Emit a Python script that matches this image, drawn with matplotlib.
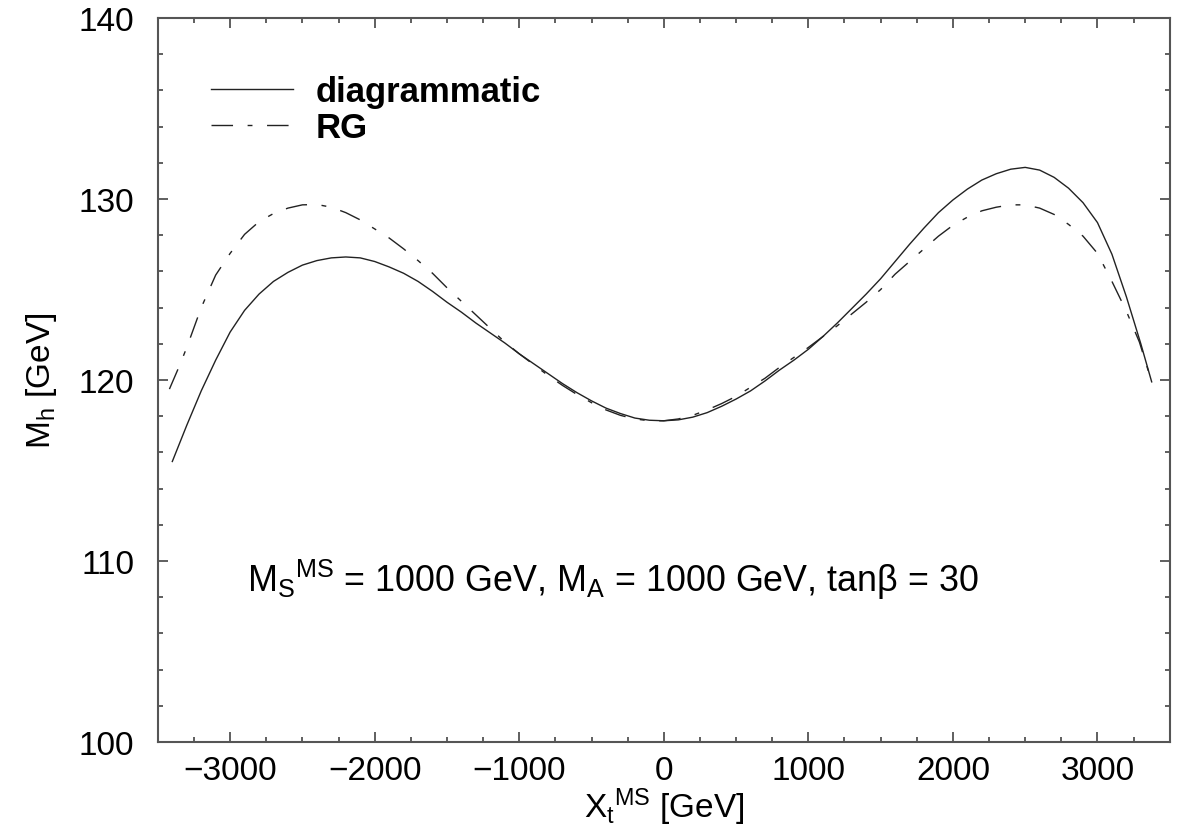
import matplotlib
matplotlib.use('Agg')
import matplotlib.pyplot as plt
from matplotlib.ticker import MultipleLocator

plt.rcParams['font.family'] = ['Liberation Sans', 'DejaVu Sans']
plt.rcParams['mathtext.fontset'] = 'custom'
plt.rcParams['mathtext.rm'] = 'Liberation Sans'
plt.rcParams['mathtext.it'] = 'Liberation Sans:italic'
plt.rcParams['lines.scale_dashes'] = False

# diagrammatic result (solid)
xt_diag = [-3400, -3300, -3200, -3100, -3000, -2900, -2800, -2700, -2600, -2500,
           -2400, -2300, -2200, -2100, -2000, -1900, -1800, -1700, -1600, -1500,
           -1400, -1300, -1200, -1100, -1000, -900, -800, -700, -600, -500,
           -400, -300, -200, -100, 0, 100, 200, 300, 400, 500,
           600, 700, 800, 900, 1000, 1100, 1200, 1300, 1400, 1500,
           1600, 1700, 1800, 1900, 2000, 2100, 2200, 2300, 2400, 2500,
           2600, 2700, 2800, 2900, 3000, 3100, 3200, 3300, 3375]
mh_diag = [115.5, 117.5, 119.4, 121.1, 122.65, 123.85, 124.75, 125.45, 125.95, 126.35,
           126.6, 126.75, 126.8, 126.75, 126.55, 126.25, 125.9, 125.45, 124.9, 124.3,
           123.75, 123.15, 122.6, 122.05, 121.45, 120.9, 120.35, 119.8, 119.3, 118.85,
           118.45, 118.15, 117.9, 117.78, 117.75, 117.8, 117.95, 118.2, 118.55, 118.95,
           119.4, 119.95, 120.55, 121.1, 121.7, 122.4, 123.15, 123.95, 124.75, 125.6,
           126.55, 127.5, 128.4, 129.25, 129.95, 130.55, 131.05, 131.4, 131.65, 131.75,
           131.6, 131.2, 130.6, 129.8, 128.7, 126.95, 124.6, 122.0, 119.9]

# RG result (dash-dot)
xt_rg = [-3420, -3350, -3300, -3200, -3100, -3000, -2900, -2800, -2700, -2600,
         -2500, -2400, -2300, -2200, -2100, -2000, -1900, -1800, -1700, -1600,
         -1500, -1400, -1300, -1200, -1100, -1000, -900, -800, -700, -600,
         -500, -400, -300, -200, -100, 0, 100, 200, 300, 400,
         500, 600, 700, 800, 900, 1000, 1100, 1200, 1300, 1400,
         1500, 1600, 1700, 1800, 1900, 2000, 2100, 2200, 2300, 2400,
         2500, 2600, 2700, 2800, 2900, 3000, 3100, 3200, 3290, 3375]
mh_rg = [119.5, 120.8, 121.8, 124.0, 125.8, 127.0, 128.05, 128.75, 129.2, 129.5,
         129.68, 129.7, 129.55, 129.25, 128.85, 128.35, 127.85, 127.25, 126.6, 125.9,
         125.1, 124.35, 123.6, 122.85, 122.1, 121.45, 120.85, 120.25, 119.7, 119.2,
         118.75, 118.35, 118.05, 117.85, 117.75, 117.75, 117.85, 118.05, 118.35, 118.7,
         119.1, 119.6, 120.1, 120.7, 121.25, 121.8, 122.4, 123.0, 123.65, 124.3,
         125.0, 125.85, 126.55, 127.25, 127.95, 128.55, 129.0, 129.35, 129.55, 129.68,
         129.68, 129.5, 129.15, 128.6, 127.95, 127.0, 125.45, 123.8, 122.1, 119.9]

fig = plt.figure(figsize=(11.78, 8.29), dpi=100)
ax = fig.add_axes([0.134, 0.1037, 0.859, 0.8733])

ax.plot(xt_diag, mh_diag, color='#222222', lw=1.0, label='diagrammatic')
ax.plot(xt_rg, mh_rg, color='#222222', lw=1.0, linestyle=(0, (15.5, 10.5, 3.5, 10.5)), label='RG')

ax.set_xlim(-3500, 3500)
ax.set_ylim(100, 140)
ax.xaxis.set_major_locator(MultipleLocator(1000))
ax.xaxis.set_minor_locator(MultipleLocator(250))
ax.yaxis.set_major_locator(MultipleLocator(10))
ax.yaxis.set_minor_locator(MultipleLocator(2))
ax.tick_params(which='both', direction='in', top=True, right=True, color='#444444', width=1.2)
ax.tick_params(which='major', length=7.5, labelsize=24)
ax.tick_params(axis='x', which='major', pad=9)
ax.tick_params(axis='y', which='major', pad=17)
ax.tick_params(which='minor', length=3.8)
for s in ax.spines.values():
    s.set_color('#555555')
    s.set_linewidth(1.5)

ax.set_xlabel(r'$\mathregular{X_t{}^{MS}}$ [GeV]', fontsize=24, labelpad=0)
ax.set_ylabel(r'M$_\mathregular{h}$ [GeV]', fontsize=24, labelpad=14)

ax.text(-2880, 109, r'$\mathregular{M_S{}^{MS}}$ = 1000 GeV, M$_\mathregular{A}$ = 1000 GeV, tanβ = 30',
        fontsize=25.8, va='center', ha='left')

ax.legend(loc='upper left', bbox_to_anchor=(0.022, 0.965), frameon=False,
          prop={'weight': 'bold', 'size': 25}, handlelength=2.35, handletextpad=0.65,
          labelspacing=0.1)

fig.savefig('out.png', dpi=100)
